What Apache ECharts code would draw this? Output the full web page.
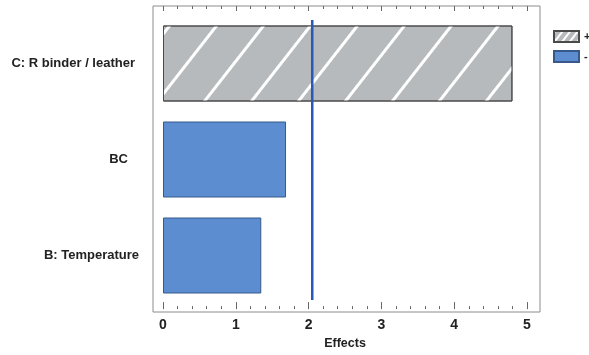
<!DOCTYPE html>
<html><head><meta charset="utf-8">
<script src="https://cdn.jsdelivr.net/npm/echarts@6/dist/echarts.min.js"></script>
<style>html,body{margin:0;padding:0;background:#fff}#c{width:589px;height:355px}</style>
</head><body><div id="c"></div>
<script>
var categories = ['C: R binder / leather', 'BC', 'B: Temperature'];
var positiveEffects = [4.80, null, null];
var negativeEffects = [null, 1.69, 1.35];
var referenceValue = 2.05;
var xTicks = [0, 1, 2, 3, 4, 5];
var labelPad = [4, 11, 0];

var chart = echarts.init(document.getElementById('c'));
var font = '"Liberation Sans", Arial, sans-serif';
var common = {min: xTicks[0], max: xTicks[xTicks.length - 1], interval: 1};
var hatch = {symbol: 'rect', color: '#ffffff', dashArrayX: [1, 0], dashArrayY: [3, 34], rotation: -52 * Math.PI / 180};
var legendHatch = {symbol: 'rect', color: '#ffffff', dashArrayX: [1, 0], dashArrayY: [2, 4], rotation: -52 * Math.PI / 180};
chart.setOption({
  animation: false,
  grid: [
    {left: 153, top: 6, width: 387, height: 306, show: true, borderColor: '#8c8c8c', borderWidth: 1, backgroundColor: 'transparent'},
    {left: 163, top: 6, width: 364, height: 306},
    {left: 163, top: 15.5, width: 364, height: 288},
    {left: 163, top: 20, width: 364, height: 280}
  ],
  legend: {
    orient: 'vertical', left: 553, top: 30, padding: 0, itemWidth: 25, itemHeight: 11, itemGap: 7,
    icon: 'rect',
    textStyle: {fontFamily: font, fontWeight: 'bold', fontSize: 11, color: '#222'},
    data: [
      {name: '+', itemStyle: {decal: legendHatch}},
      {name: '-'}
    ]
  },
  xAxis: [
    {gridIndex: 0, show: false, min: 0, max: 1},
    Object.assign({gridIndex: 1, type: 'value', position: 'bottom',
      axisLine: {show: false},
      axisTick: {show: true, inside: true, length: 7, lineStyle: {color: '#666'}},
      minorTick: {show: true, splitNumber: 5, length: 3, lineStyle: {color: '#666'}},
      splitLine: {show: false},
      axisLabel: {margin: 9, fontFamily: '"Liberation Sans Narrow", "Liberation Sans", sans-serif', fontWeight: 'bold', fontSize: 14, color: '#222'},
      name: 'Effects', nameLocation: 'middle', nameGap: 27,
      nameTextStyle: {fontFamily: font, fontWeight: 'bold', fontSize: 12.5, color: '#222'}
    }, common),
    Object.assign({gridIndex: 1, type: 'value', position: 'top',
      axisLine: {show: false},
      axisTick: {show: true, inside: true, length: 5, lineStyle: {color: '#666'}},
      minorTick: {show: true, splitNumber: 5, length: 3, lineStyle: {color: '#666'}},
      splitLine: {show: false}, axisLabel: {show: false}
    }, common),
    Object.assign({gridIndex: 2, type: 'value', show: false, splitLine: {show: false}}, common),
    Object.assign({gridIndex: 3, type: 'value', show: false, splitLine: {show: false}}, common)
  ],
  yAxis: [
    {gridIndex: 0, show: false, min: 0, max: 1},
    {gridIndex: 1, show: false, min: 0, max: 1},
    {gridIndex: 2, type: 'category', inverse: true,
      data: categories.map(function (c, i) { return {value: c, textStyle: {padding: [0, labelPad[i], 0, 0]}}; }),
      axisLine: {show: false}, axisTick: {show: false},
      axisLabel: {margin: 24, fontFamily: font, fontWeight: 'bold', fontSize: 13, color: '#222'}
    },
    {gridIndex: 3, type: 'value', show: false, min: 0, max: 1}
  ],
  series: [
    {name: '+', type: 'bar', xAxisIndex: 3, yAxisIndex: 2, stack: 'e', barWidth: 76,
      data: positiveEffects,
      itemStyle: {color: '#b6babd', borderColor: '#4a4a4a', borderWidth: 1, decal: hatch}
    },
    {name: '-', type: 'bar', xAxisIndex: 3, yAxisIndex: 2, stack: 'e', barWidth: 76,
      data: negativeEffects,
      itemStyle: {color: '#5b8dd0', borderColor: '#36598a', borderWidth: 1}
    },
    {name: 'ref', type: 'line', xAxisIndex: 4, yAxisIndex: 3, symbol: 'none',
      data: [[referenceValue, 0], [referenceValue, 1]],
      lineStyle: {color: '#2a58b8', width: 2.5}
    }
  ]
});
</script></body></html>
